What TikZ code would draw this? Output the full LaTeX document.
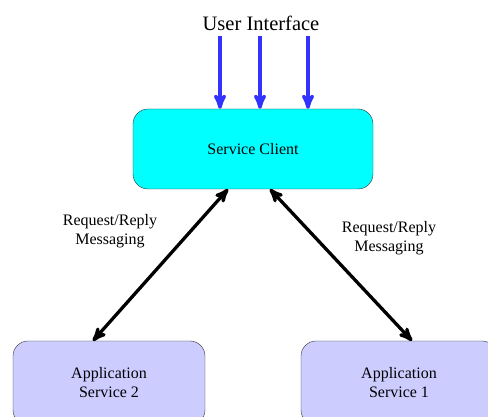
\documentclass[tikz,border=0pt]{standalone}
\usepackage{fontspec}
\setmainfont{Liberation Serif}
\usepackage{tikz}
\usetikzlibrary{calc,positioning,arrows}
\definecolor{clientcyan}{RGB}{0,255,255}
\definecolor{appblue}{RGB}{204,204,255}
\definecolor{uiblue}{RGB}{51,51,255}
\tikzset{
	>=stealth',
	clientbox/.style={
		rectangle,
		rounded corners=15pt,
		fill=clientcyan,
		draw=black!80, thin,
		minimum width=240pt,
		minimum height=80pt,
		text centered,
		font={\fontsize{16pt}{19}\selectfont}
	},
	appbox/.style={
		rectangle,
		rounded corners=15pt,
		fill=appblue,
		draw=black!80, thin,
		minimum height=84pt,
		align=center,
		font={\fontsize{16pt}{19}\selectfont}
	},
	msglabel/.style={align=center, font={\fontsize{16pt}{19}\selectfont}},
	msgline/.style={draw, line width=3.3pt, <->},
	uiline/.style={draw=uiblue, line width=3.5pt, ->},
}
\begin{document}
\begin{tikzpicture}[x=1pt,y=1pt]
	\useasboundingbox (0,0) rectangle (488,417);
	\node (ui) at (261,394) {\fontsize{20.5pt}{24}\selectfont User Interface};
	\node[clientbox] (client) at (253,268) {Service Client};
	\node[appbox, minimum width=192pt] (app2) at (109,34) {Application\\Service 2};
	\node[appbox, minimum width=196pt] (app1) at (399,34) {Application\\Service 1};
	\foreach \dx in {-33,7,55}
		\draw[uiline] ([xshift=\dx pt]client.north |- 0,381) -- ([xshift=\dx pt]client.north);
	\draw[msgline] ($(client.south)+(-25,0)$) -- ($(app2.north)+(-16,0)$);
	\draw[msgline] ($(client.south)+(17,0)$) -- ($(app1.north)+(13,0)$);
	\node[msglabel] (lbl2) at (110,186) {Request/Reply\\Messaging};
	\node[msglabel] (lbl1) at (389,179) {Request/Reply\\Messaging};
\end{tikzpicture}
\end{document}
